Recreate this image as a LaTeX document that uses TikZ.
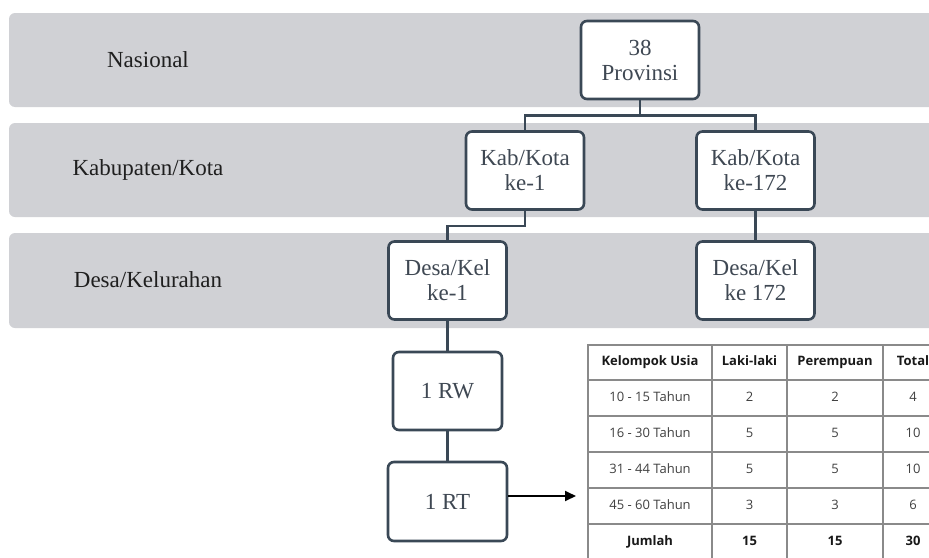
\documentclass[tikz,border=0pt]{standalone}
\usepackage{fontspec}
\setmainfont{Liberation Serif}
\newfontfamily\tabfont{Open Sans}
\usetikzlibrary{arrows.meta}
\definecolor{bandgray}{HTML}{D0D1D5}
\definecolor{edgecol}{HTML}{3A4856}
\definecolor{ntext}{HTML}{3F4853}
\definecolor{gridcol}{HTML}{8A8A8A}
\begin{document}
\begin{tikzpicture}[x=1pt,y=-1pt,
  bandbox/.style={fill=bandgray, rounded corners=6pt},
  bandlabel/.style={text=black!88, font=\fontsize{23}{25}\selectfont},
  orgbox/.style={draw=edgecol, line width=2.6pt, rounded corners=6pt, fill=white,
    minimum width=118pt, minimum height=78pt, align=center, text=ntext,
    inner sep=0pt, font=\fontsize{23}{25}\selectfont},
  conn/.style={draw=edgecol, line width=2.6pt},
  cell/.style={draw=gridcol, line width=1.2pt, inner sep=0pt, text=black!75,
    text height=9.5pt, text depth=3pt,
    font=\tabfont\fontsize{13}{15}\selectfont},
  hcell/.style={cell, text=black!90, font=\tabfont\bfseries\fontsize{13}{15}\selectfont}
]
\useasboundingbox (0,0) rectangle (929,557);
\clip (0,0) rectangle (929,557);
\fill[white] (0,0) rectangle (929,557);

% bands
\fill[bandbox] (9,13) rectangle (970,107);
\fill[bandbox] (9,123) rectangle (970,217);
\fill[bandbox] (9,233) rectangle (970,328);

\node[bandlabel] (lnas) at (148,60) {Nasional};
\node[bandlabel] (lkab) at (148,170) {Kabupaten/Kota};
\node[bandlabel] (ldesa) at (148,280) {Desa/Kelurahan};

% org nodes
\node[orgbox] (prov) at (640,60) {38\\Provinsi};
\node[orgbox] (kab1) at (525,170.5) {Kab/Kota\\ke-1};
\node[orgbox] (kab172) at (755.5,170.5) {Kab/Kota\\ke-172};
\node[orgbox] (desa1) at (447.5,280.5) {Desa/Kel\\ke-1};
\node[orgbox] (desa172) at (755.5,280.5) {Desa/Kel\\ke 172};
\node[orgbox, minimum width=109pt] (rw) at (447.5,391) {1 RW};
\node[orgbox, minimum width=119pt, minimum height=79pt] (rt) at (447.5,501.5) {1 RT};

% connectors
\draw[conn] (prov.south) -- ++(0,15) -| (kab1.north);
\draw[conn] (prov.south) -- ++(0,15) -| (kab172.north);
\draw[conn] (kab1.south) -- ++(0,15) -| (desa1.north);
\draw[conn] (kab172.south) -- (desa172.north);
\draw[conn] (desa1.south) -- (rw.north);
\draw[conn] (rw.south) -- (rt.north);

\coordinate (arrowend) at (576,496);
\draw[line width=1.8pt, black, -{Triangle[length=11pt, width=10pt]}] (rt.east |- arrowend) -- (arrowend);

% table
\node[hcell, minimum width=124pt, minimum height=35pt] (h1) at (650,362.5) {Kelompok Usia};
\node[hcell, minimum width=75pt, minimum height=35pt] (h2) at (749.5,362.5) {Laki-laki};
\node[hcell, minimum width=96pt, minimum height=35pt] (h3) at (835,362.5) {Perempuan};
\node[hcell, minimum width=60pt, minimum height=35pt] (h4) at (913,362.5) {Total};

\node[cell, minimum width=124pt, minimum height=36pt] (r1a) at (650,398) {10 - 15 Tahun};
\node[cell, minimum width=75pt, minimum height=36pt] (r1b) at (749.5,398) {2};
\node[cell, minimum width=96pt, minimum height=36pt] (r1c) at (835,398) {2};
\node[cell, minimum width=60pt, minimum height=36pt] (r1d) at (913,398) {4};

\node[cell, minimum width=124pt, minimum height=36pt] (r2a) at (650,434) {16 - 30 Tahun};
\node[cell, minimum width=75pt, minimum height=36pt] (r2b) at (749.5,434) {5};
\node[cell, minimum width=96pt, minimum height=36pt] (r2c) at (835,434) {5};
\node[cell, minimum width=60pt, minimum height=36pt] (r2d) at (913,434) {10};

\node[cell, minimum width=124pt, minimum height=36pt] (r3a) at (650,470) {31 - 44 Tahun};
\node[cell, minimum width=75pt, minimum height=36pt] (r3b) at (749.5,470) {5};
\node[cell, minimum width=96pt, minimum height=36pt] (r3c) at (835,470) {5};
\node[cell, minimum width=60pt, minimum height=36pt] (r3d) at (913,470) {10};

\node[cell, minimum width=124pt, minimum height=36pt] (r4a) at (650,506) {45 - 60 Tahun};
\node[cell, minimum width=75pt, minimum height=36pt] (r4b) at (749.5,506) {3};
\node[cell, minimum width=96pt, minimum height=36pt] (r4c) at (835,506) {3};
\node[cell, minimum width=60pt, minimum height=36pt] (r4d) at (913,506) {6};

\node[hcell, minimum width=124pt, minimum height=36pt] (r5a) at (650,542) {Jumlah};
\node[hcell, minimum width=75pt, minimum height=36pt] (r5b) at (749.5,542) {15};
\node[hcell, minimum width=96pt, minimum height=36pt] (r5c) at (835,542) {15};
\node[hcell, minimum width=60pt, minimum height=36pt] (r5d) at (913,542) {30};
\end{tikzpicture}
\end{document}
